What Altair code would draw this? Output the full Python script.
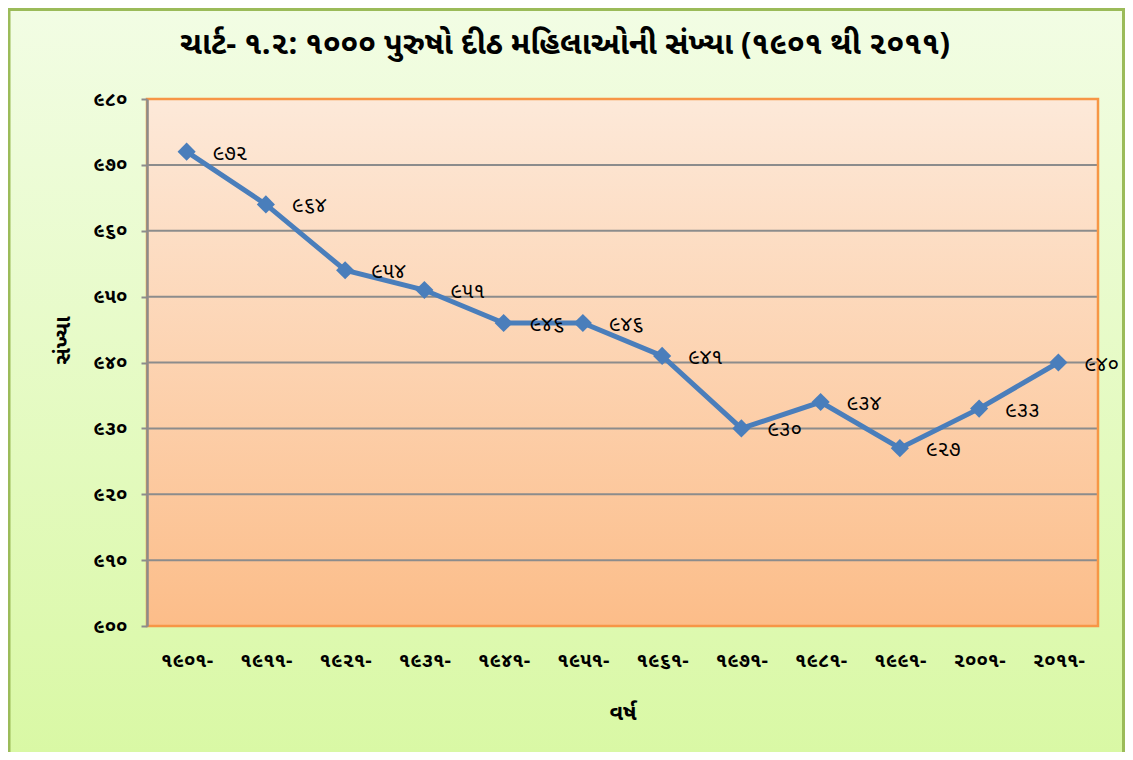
import altair as alt
import pandas as pd

years = ["૧૯૦૧-", "૧૯૧૧-", "૧૯૨૧-", "૧૯૩૧-", "૧૯૪૧-", "૧૯૫૧-",
         "૧૯૬૧-", "૧૯૭૧-", "૧૯૮૧-", "૧૯૯૧-", "૨૦૦૧-", "૨૦૧૧-"]
values = [972, 964, 954, 951, 946, 946, 941, 930, 934, 927, 933, 940]
labels = ["૯૭૨", "૯૬૪", "૯૫૪", "૯૫૧", "૯૪૬", "૯૪૬", "૯૪૧", "૯૩૦", "૯૩૪", "૯૨૭", "૯૩૩", "૯૪૦"]
y_ticks = [900, 910, 920, 930, 940, 950, 960, 970, 980]
y_tick_labels = ["૯૦૦", "૯૧૦", "૯૨૦", "૯૩૦", "૯૪૦", "૯૫૦", "૯૬૦", "૯૭૦", "૯૮૦"]
grid_vals = [910, 920, 930, 940, 950, 960, 970]
title_text = "ચાર્ટ- ૧.૨:  ૧૦૦૦ પુરુષો દીઠ મહિલાઓની સંખ્યા (૧૯૦૧ થી ૨૦૧૧)"

W, H = 951, 527
FONT = "Noto Sans Gujarati, Shruti, Lohit Gujarati, sans-serif"

df = pd.DataFrame({"year": years, "value": values, "label": labels})
gdf = pd.DataFrame({"g": grid_vals})

label_expr = "{" + ",".join(f"'{v}':'{t}'" for v, t in zip(y_ticks, y_tick_labels)) + "}[datum.value]"

x_enc = alt.X("year:N", sort=years, title="વર્ષ",
              scale=alt.Scale(type="point", padding=0.5),
              axis=alt.Axis(labelAngle=0, labelFontSize=20, labelFontWeight="bold",
                            labelFont=FONT, labelColor="#000000", labelPadding=24,
                            ticks=False, domain=False, titleFontSize=22, titleFont=FONT,
                            titleFontWeight="bold", titleColor="#000000",
                            titleY=86, titleBaseline="middle",
                            grid=False, zindex=2))
y_enc = alt.Y("value:Q", title="સંખ્યા",
              scale=alt.Scale(domain=[900, 980], nice=False, zero=False),
              axis=alt.Axis(values=y_ticks, labelExpr=label_expr, labelFontSize=20,
                            labelFont=FONT, labelFontWeight="bold", labelColor="#000000",
                            labelPadding=14, tickSize=6, tickColor="#8c8c8c", tickWidth=2,
                            domainColor="#8c8c8c", domainWidth=2.5,
                            grid=False, zindex=2,
                            titleFontSize=22, titleFont=FONT, titleFontWeight="bold",
                            titleX=-85, titleY=241, titleBaseline="middle", titleAlign="center",
                            titleColor="#000000"))

one = pd.DataFrame({"t": [title_text]})

outer = alt.Chart(one).mark_rect(
    color=alt.LinearGradient(gradient="linear", x1=0, y1=0, x2=0, y2=1,
                             stops=[alt.GradientStop(color="#f2fde4", offset=0),
                                    alt.GradientStop(color="#d8f8a2", offset=1)]),
    stroke="#9bbb59", strokeWidth=3
).encode(x=alt.value(-138), x2=alt.value(W + 25.5), y=alt.value(-89.5), y2=alt.value(H + 160))

plotbg = alt.Chart(one).mark_rect(
    color=alt.LinearGradient(gradient="linear", x1=0, y1=0, x2=0, y2=1,
                             stops=[alt.GradientStop(color="#fde9d9", offset=0),
                                    alt.GradientStop(color="#fcbd89", offset=1)]),
).encode(x=alt.value(0), x2=alt.value(W), y=alt.value(0), y2=alt.value(H))

grid = alt.Chart(gdf).mark_rule(color="#8c8c8c", strokeWidth=2).encode(
    y=alt.Y("g:Q"), x=alt.value(0), x2=alt.value(W))

border = alt.Chart(one).mark_rect(fill=None, stroke="#f79646", strokeWidth=2.5).encode(
    x=alt.value(0), x2=alt.value(W), y=alt.value(0), y2=alt.value(H))

title = alt.Chart(one).mark_text(fontSize=31, fontWeight="bold", font=FONT, color="#000000",
                                 align="center", baseline="middle").encode(
    x=alt.value(418), y=alt.value(-54), text="t:N")

base = alt.Chart(df)
line = base.mark_line(color="#4a7ebb", strokeWidth=5).encode(x=x_enc, y=y_enc)
pts = base.mark_point(shape="diamond", filled=True, size=330, color="#4a7ebb", opacity=1).encode(
    x=alt.X("year:N", sort=years), y="value:Q")
txt = base.mark_text(align="left", baseline="middle", dx=26, dy=2, fontSize=21, font=FONT,
                     color="#000000").encode(x=alt.X("year:N", sort=years), y="value:Q", text="label:N")

chart = alt.layer(outer, plotbg, grid, border, line, pts, txt, title).properties(
    width=W, height=H,
    autosize=alt.AutoSizeParams(type="none"),
    padding={"left": 139, "top": 91, "right": 27, "bottom": 126},
).configure_view(stroke=None).configure(background="#ffffff")

chart.save("out.html", embed_options={"renderer": "svg", "actions": False})
